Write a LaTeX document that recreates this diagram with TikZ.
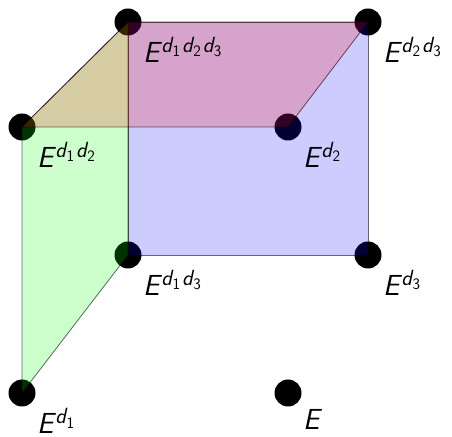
\RequirePackage{fix-cm}
\documentclass[tikz,border=0pt]{standalone}
% superscript and its subscripts
\newcommand{\dsub}[1]{d\kern0.5pt\raisebox{-4pt}{\fontsize{16}{16}\selectfont\upshape #1}\kern2pt}
\newcommand{\sups}[1]{\kern2pt\raisebox{10pt}{\fontsize{22}{22}\selectfont #1}}
\begin{document}
\begin{tikzpicture}[x=1pt,y=1pt,
	vertex/.style={fill=black,circle,inner sep=0pt,minimum size=27pt},
	face/.style={fill opacity=0.2,draw=black,draw opacity=0.6,line width=0.8pt},
	lab/.style={anchor=base west,inner sep=0pt,font={\fontsize{29}{32}\selectfont\sffamily\itshape}}]
	\useasboundingbox (0,0) rectangle (452,436);
	% corners
	\node[vertex] (e) at (288,43) {};
	\node[vertex] (e1) at (22,43) {};
	\node[vertex] (e2) at (288,309) {};
	\node[vertex] (e3) at (368,181) {};
	\node[vertex] (e12) at (22,309) {};
	\node[vertex] (e13) at (128,181) {};
	\node[vertex] (e23) at (368,414) {};
	\node[vertex] (e123) at (128,414) {};
	% faces
	\draw[face,fill=green] (e1.center) -- (e12.center) -- (e123.center) -- (e13.center) -- cycle;
	\draw[face,fill=blue] (e13.center) -- (e123.center) -- (e23.center) -- (e3.center) -- cycle;
	\draw[face,fill=red] (e12.center) -- (e123.center) -- (e23.center) -- (e2.center) -- cycle;
	% labels
	\node[lab] (le) at ([shift={(15,-36)}]e) {E};
	\node[lab] (le1) at ([shift={(15,-41)}]e1) {E\sups{\dsub{1}}};
	\node[lab] (le2) at ([shift={(15,-41)}]e2) {E\sups{\dsub{2}}};
	\node[lab] (le3) at ([shift={(15,-41)}]e3) {E\sups{\dsub{3}}};
	\node[lab] (le12) at ([shift={(15,-41)}]e12) {E\sups{\dsub{1}\dsub{2}}};
	\node[lab] (le13) at ([shift={(15,-41)}]e13) {E\sups{\dsub{1}\dsub{3}}};
	\node[lab] (le23) at ([shift={(15,-41)}]e23) {E\sups{\dsub{2}\dsub{3}}};
	\node[lab] (le123) at ([shift={(15,-41)}]e123) {E\sups{\dsub{1}\dsub{2}\dsub{3}}};
\end{tikzpicture}
\end{document}
